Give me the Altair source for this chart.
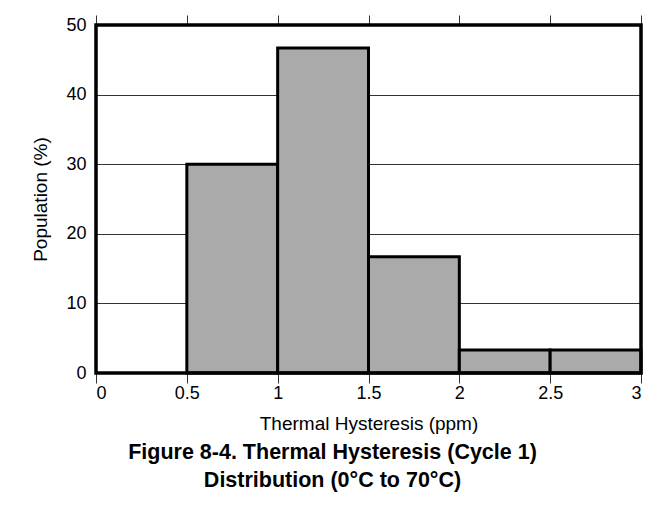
import altair as alt
import pandas as pd

# Data
bin_start = [0.5, 1.0, 1.5, 2.0, 2.5]
bin_end = [1.0, 1.5, 2.0, 2.5, 3.0]
population = [30.0, 46.7, 16.7, 3.3, 3.3]

x_ticks = [0, 0.5, 1, 1.5, 2, 2.5, 3]
y_ticks = [0, 10, 20, 30, 40, 50]
x_range = [0, 3]
y_range = [0, 50]

df = pd.DataFrame({"start": bin_start, "end": bin_end, "pop": population})
FONT = "Liberation Sans"

x_scale = alt.Scale(domain=x_range, nice=False, zero=False)
y_scale = alt.Scale(domain=y_range, nice=False)

bars = alt.Chart(df).mark_rect(
    fill="#aaaaaa", stroke="black", strokeWidth=3
).encode(
    x=alt.X("start:Q", scale=x_scale,
            axis=alt.Axis(orient="bottom", values=x_ticks, format=".1~f",
                          title="Thermal Hysteresis (ppm)", grid=False,
                          domain=False, tickSize=10, tickColor="#333",
                          labelFontSize=18, labelColor="black", labelFont=FONT,
                          labelPadding=1, titleFontSize=19, titleFont=FONT,
                          titleFontWeight="normal", titleColor="black",
                          titlePadding=12)),
    x2="end:Q",
    y=alt.Y("pop:Q", scale=y_scale,
            axis=alt.Axis(values=y_ticks, title="Population (%)", grid=True,
                          gridColor="#333", gridWidth=1, domain=False,
                          ticks=False, labelFontSize=18, labelColor="black",
                          labelFont=FONT, labelPadding=10, titleFontSize=19,
                          titleFont=FONT, titleFontWeight="normal",
                          titleColor="black", titlePadding=15)),
    y2=alt.datum(0),
)

top_ticks = alt.Chart(pd.DataFrame({"t": x_ticks})).mark_point(opacity=0).encode(
    x=alt.X("t:Q", scale=x_scale,
            axis=alt.Axis(orient="top", values=x_ticks, labels=False, title=None,
                          grid=False, domain=False, tickSize=10,
                          tickColor="#333")),
)

# plot frame drawn through the scales (full domain box)
frame = alt.Chart(pd.DataFrame({"a": [0]})).mark_rect(
    fill="transparent", stroke="black", strokeWidth=3.5
).encode(
    x=alt.X("x0:Q", scale=x_scale, axis=None),
    x2="x1:Q",
    y=alt.Y("y0:Q", scale=y_scale, axis=None),
    y2="y1:Q",
).transform_calculate(
    x0=str(x_range[0]), x1=str(x_range[1]), y0=str(y_range[0]), y1=str(y_range[1])
)

chart = alt.layer(bars, top_ticks, frame).resolve_axis(
    x="independent", y="independent"
).properties(
    width=545,
    height=348,
    padding={"left": 88, "top": 17, "right": 14, "bottom": 133},
    autosize=alt.AutoSizeParams(type="none"),
    background="white",
    view=alt.ViewBackground(stroke="transparent"),
    title=alt.TitleParams(
        ["Figure 8-4. Thermal Hysteresis (Cycle 1)", "Distribution (0°C to 70°C)"],
        orient="bottom", anchor="middle", fontSize=21.5, fontWeight="bold",
        font=FONT, color="black", dx=-36, offset=9, lineHeight=28,
    ),
)

chart.save("out.html", embed_options={"renderer": "svg", "actions": False})
